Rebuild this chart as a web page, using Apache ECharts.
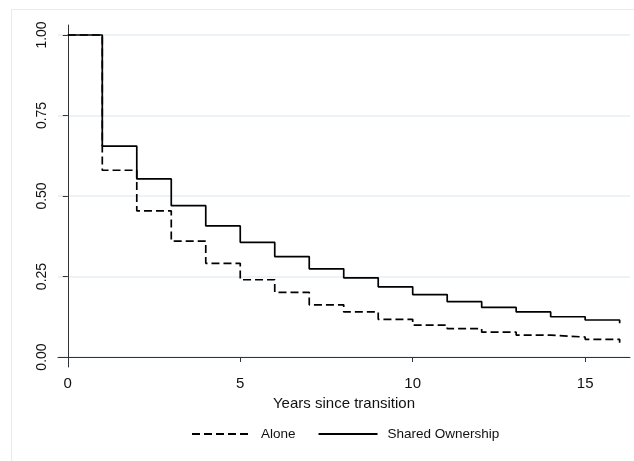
<!DOCTYPE html>
<html>
<head>
<meta charset="utf-8">
<script src="https://cdn.jsdelivr.net/npm/echarts@6/dist/echarts.min.js"></script>
<style>
html,body{margin:0;padding:0;background:#fff;}
#c{width:634px;height:461px;}
</style>
</head>
<body>
<div id="c"></div>
<script>
// Years since transition (step points)
const years = [0, 1, 2, 3, 4, 5, 6, 7, 8, 9, 10, 11, 12, 13, 14, 15, 16];
// Survival estimates
const alone = [1.00, 0.580, 0.454, 0.360, 0.291, 0.240, 0.201, 0.162, 0.140, 0.117, 0.099, 0.088, 0.077, 0.068, 0.062, 0.055, 0.044];
const shared = [1.00, 0.655, 0.553, 0.470, 0.407, 0.356, 0.312, 0.274, 0.246, 0.218, 0.194, 0.172, 0.154, 0.140, 0.125, 0.115, 0.105];
const xTicks = [0, 5, 10, 15];
const yTicks = [0, 0.25, 0.5, 0.75, 1];
const seriesNames = ['Alone', 'Shared Ownership'];
const xTitle = 'Years since transition';

const font = '"Liberation Sans", Arial, sans-serif';
const chart = echarts.init(document.getElementById('c'), null, {renderer: 'canvas'});
chart.setOption({
  animation: false,
  backgroundColor: '#ffffff',
  graphic: [{
    type: 'rect',
    shape: {x: 11.5, y: 9.5, width: 640, height: 470},
    style: {fill: 'none', stroke: '#e4ecee', lineWidth: 1},
    silent: true,
    z: -10
  }],
  grid: {left: 58, right: 4, top: 25, bottom: 94, containLabel: false},
  xAxis: {
    type: 'value',
    min: -0.284,
    max: 16.3,
    name: xTitle,
    nameLocation: 'middle',
    nameGap: 27,
    nameTextStyle: {fontFamily: font, fontSize: 15, color: '#111'},
    axisLine: {show: true, lineStyle: {color: '#333', width: 1}},
    axisTick: {show: true, length: 5, lineStyle: {color: '#333'}, customValues: xTicks},
    axisLabel: {customValues: xTicks, fontFamily: font, fontSize: 15, color: '#111', margin: 9},
    splitLine: {show: false}
  },
  yAxis: {
    type: 'value',
    min: -0.031,
    max: 1.031,
    axisLine: {show: true, lineStyle: {color: '#333', width: 1}},
    axisTick: {show: true, length: 5, lineStyle: {color: '#333'}, customValues: yTicks},
    axisLabel: {
      customValues: yTicks,
      rotate: 90,
      fontFamily: font, fontSize: 14, color: '#111', margin: 9,
      formatter: v => v.toFixed(2)
    },
    splitLine: {show: true, lineStyle: {color: '#e6eef2', width: 1.5}}
  },
  legend: {
    left: 191,
    top: 427,
    padding: 0,
    itemWidth: 59,
    itemHeight: 14,
    itemGap: 22,
    itemStyle: {opacity: 0},
    textStyle: {fontFamily: font, fontSize: 13.5, color: '#111', padding: [0, 0, 0, 5]},
    data: seriesNames
  },
  series: [
    {
      name: seriesNames[0],
      type: 'line',
      step: 'end',
      symbol: 'none',
      data: years.map((t, i) => [t, alone[i]]),
      lineStyle: {color: '#000', width: 1.7, type: [8, 4]},
      itemStyle: {color: '#000'}
    },
    {
      name: seriesNames[1],
      type: 'line',
      step: 'end',
      symbol: 'none',
      data: years.map((t, i) => [t, shared[i]]),
      lineStyle: {color: '#000', width: 1.7, type: 'solid'},
      itemStyle: {color: '#000'}
    }
  ]
});
</script>
</body>
</html>
